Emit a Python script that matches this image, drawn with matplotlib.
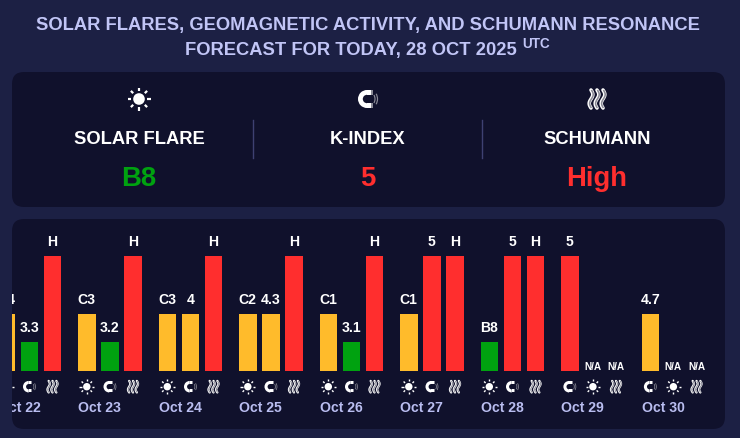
"""Solar flare, K-index and Schumann forecast panel."""

import matplotlib

matplotlib.use("Agg")
import matplotlib.pyplot as plt
import numpy as np
from matplotlib.patches import Arc, Circle, FancyBboxPatch, Rectangle, Wedge

plt.rcParams["font.family"] = ["Liberation Sans", "DejaVu Sans"]
plt.rcParams["font.weight"] = "bold"

dates = ["Oct 22", "Oct 23", "Oct 24", "Oct 25", "Oct 26", "Oct 27", "Oct 28", "Oct 29", "Oct 30"]
first_labels = ["C4", "C3", "C3", "C2", "C1", "C1", "B8", "5", "4.7"]
first_levels = [2, 2, 2, 2, 2, 2, 1, 4, 2]
second_labels = ["3.3", "3.2", "4", "4.3", "3.1", "5", "5", "N/A", "N/A"]
second_levels = [1, 1, 2, 2, 1, 4, 4, 0, 0]
third_labels = ["H", "H", "H", "H", "H", "H", "H", "N/A", "N/A"]
third_levels = [4, 4, 4, 4, 4, 4, 4, 0, 0]
first_icons = ["sun", "sun", "sun", "sun", "sun", "sun", "sun", "magnet", "magnet"]
second_icons = ["magnet", "magnet", "magnet", "magnet", "magnet", "magnet", "magnet", "sun", "sun"]
third_icons = ["waves"] * 9

summary_names = ["SOLAR FLARE", "K-INDEX", "SCHUMANN"]
summary_values = ["B8", "5", "High"]
summary_icons = ["sun", "magnet", "waves"]

BG = "#1c2044"
PANEL = "#10112c"
TITLE = "#c1c5f6"
DATE = "#b9bdf0"
DIVIDER = "#3e4172"
GREY = "#8a8a96"
LEVEL_COLORS = {0: "none", 1: "#00a210", 2: "#ffbb2b", 4: "#ff2e2e"}
SUMMARY_COLORS = ["#00a210", "#ff2e2e", "#ff2e2e"]


def px(size):
    """Pixel size to points at 100 dpi."""
    return size * 0.72


def draw_sun(ax, cx, cy, scale, clip):
    disk = Circle((cx, cy), 5.8 * scale, color="white", lw=0)
    ax.add_patch(disk)
    disk.set_clip_path(clip)
    for a in np.arange(8) * np.pi / 4:
        line = ax.plot(
            [cx + 8.2 * scale * np.cos(a), cx + 11.5 * scale * np.cos(a)],
            [cy + 8.2 * scale * np.sin(a), cy + 11.5 * scale * np.sin(a)],
            color="white",
            lw=px(2.2 * scale),
            solid_capstyle="butt",
        )[0]
        line.set_clip_path(clip)


def draw_magnet(ax, cx, cy, scale, clip):
    r = 9 * scale
    t = 4.8 * scale
    x0 = cx - 1 * scale
    arm = 4 * scale
    tip = 1.6 * scale
    items = [
        Wedge((x0, cy), r, 90, 270, width=t, color="white", lw=0),
        Rectangle((x0, cy - r), arm, t, color="white", lw=0),
        Rectangle((x0, cy + r - t), arm, t, color="white", lw=0),
        Rectangle((x0 + arm, cy - r), tip, t, color=GREY, lw=0),
        Rectangle((x0 + arm, cy + r - t), tip, t, color=GREY, lw=0),
        Arc((x0, cy), 16 * scale, 16 * scale, theta1=-30, theta2=30, color=GREY, lw=px(1.2 * scale)),
        Arc((x0, cy), 21 * scale, 21 * scale, theta1=-30, theta2=30, color=GREY, lw=px(1.2 * scale)),
    ]
    for item in items:
        ax.add_patch(item)
        item.set_clip_path(clip)


def draw_waves(ax, cx, cy, scale, clip):
    t = np.linspace(-1, 1, 40)
    for dx in (-6, 0, 6):
        xs = cx + (dx - 1.8 * np.sin(t * np.pi)) * scale
        ys = cy + t * 9 * scale
        ax.plot(xs, ys, color="white", lw=px(3.6 * scale), solid_capstyle="round")
        ax.plot(xs + 0.4 * scale, ys, color=GREY, lw=px(1.6 * scale), solid_capstyle="butt")


ICONS = {"sun": draw_sun, "magnet": draw_magnet, "waves": draw_waves}

fig = plt.figure(figsize=(7.4, 4.38), dpi=100, facecolor=BG)

# full-figure layer in pixel coordinates for panels, icons and header text
bg = fig.add_axes([0, 0, 1, 1], zorder=0)
bg.set_xlim(0, 740)
bg.set_ylim(438, 0)
bg.axis("off")

top_panel = FancyBboxPatch(
    (12, 72), 713, 135, boxstyle="round,pad=0,rounding_size=12", facecolor=PANEL, edgecolor="none"
)
low_panel = FancyBboxPatch(
    (12, 219), 713, 210, boxstyle="round,pad=0,rounding_size=12", facecolor=PANEL, edgecolor="none"
)
bg.add_patch(top_panel)
bg.add_patch(low_panel)

bg.text(368, 25.5, "SOLAR FLARES, GEOMAGNETIC ACTIVITY, AND SCHUMANN RESONANCE",
        color=TITLE, fontsize=px(18.4), ha="center", va="center")
bg.text(351, 50, "FORECAST FOR TODAY, 28 OCT 2025",
        color=TITLE, fontsize=px(18.4), ha="center", va="center")
bg.text(522.5, 44, "UTC", color=TITLE, fontsize=px(13.5), ha="left", va="center")

# header summary
for name, value, icon, color, cx in zip(summary_names, summary_values, summary_icons, SUMMARY_COLORS, (139, 368, 597)):
    ICONS[icon](bg, cx, 99, 1.0, top_panel)
    bg.text(cx, 139.5, name, color="white", fontsize=px(18.4), ha="center", va="center")
    bg.text(cx, 178.5, value, color=color, fontsize=px(27.5), ha="center", va="center")
for x in (253, 482):
    bg.plot([x, x], [120, 158], color=DIVIDER, lw=1.0)

# bar chart, axes placed over the lower panel
ax = fig.add_axes([12 / 740, (438 - 429) / 438, 713 / 740, 210 / 438], zorder=1)
ax.patch.set_alpha(0)
ax.axis("off")
px_per_group = 80.5
px_per_level = 28.7
ax.set_xlim((12 - 29.4) / px_per_group, (725 - 29.4) / px_per_group)
ax.set_ylim((371 - 429) / px_per_level, (371 - 219) / px_per_level)

slot = 23.1 / px_per_group
width = 17.5 / px_per_group
groups = np.arange(len(dates))

series = [
    (-slot, first_labels, first_levels, first_icons),
    (0.0, second_labels, second_levels, second_icons),
    (slot, third_labels, third_levels, third_icons),
]
for offset, labels, levels, icons in series:
    xs = groups + offset
    ax.bar(xs, levels, width=width, color=[LEVEL_COLORS[v] for v in levels], linewidth=0)
    for x, label, level, icon in zip(xs, labels, levels, icons):
        small = label == "N/A"
        ax.annotate(
            label,
            (x, level),
            xytext=(0, px(4.5 if small else 14)),
            textcoords="offset points",
            color="white",
            fontsize=px(10 if small else 14),
            ha="center",
            va="center",
            annotation_clip=False,
            clip_on=True,
        )
        icon_x = ax.transData.transform((x, 0))[0]
        ICONS[icon](bg, icon_x, 386.7, 0.64, low_panel)

for x, date in zip(groups - slot - width / 2, dates):
    ax.annotate(
        date,
        (x, 0),
        xytext=(0, px(-37.2)),
        textcoords="offset points",
        color=DATE,
        fontsize=px(14),
        ha="left",
        va="center",
        annotation_clip=False,
        clip_on=True,
    )

fig.savefig("out.png", dpi=100, facecolor=BG)
